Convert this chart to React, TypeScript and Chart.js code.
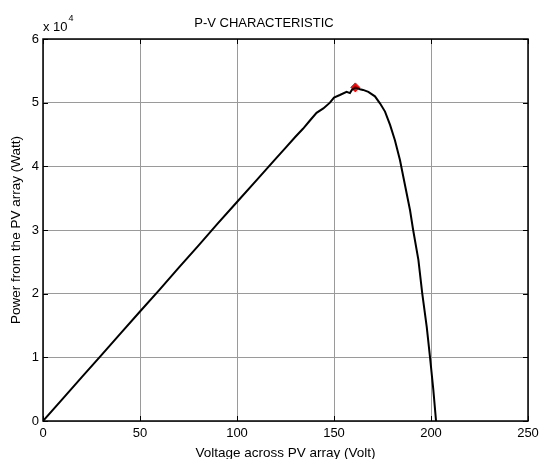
import React, { useEffect, useRef } from "react";
import { Chart, registerables } from "chart.js";

Chart.register(...registerables);

const voltage = [0, 10, 20, 30, 40, 50, 60, 70, 80, 90, 100, 110, 120, 125, 130, 134, 137.6, 141, 144.5, 147.9, 150, 153, 156.5, 158.2, 159.2, 161, 163.4, 165, 167.7, 171.1, 173.7, 176.3, 178.9, 181.4, 184, 185.7, 189.2, 190.8, 193.5, 195.5, 197.8, 199.5, 201.2, 202.6];
const powerE4 = [0, 0.344, 0.69, 1.03, 1.375, 1.72, 2.06, 2.41, 2.75, 3.1, 3.44, 3.78, 4.12, 4.29, 4.46, 4.59, 4.72, 4.84, 4.91, 5.0, 5.08, 5.12, 5.17, 5.15, 5.2, 5.24, 5.21, 5.2, 5.17, 5.1, 4.99, 4.86, 4.65, 4.41, 4.1, 3.84, 3.31, 3.0, 2.53, 2.0, 1.48, 1.0, 0.49, 0];
const mppVoltage = [161];
const mppPowerE4 = [5.24];
const xTicks = [0, 50, 100, 150, 200, 250];
const yTicks = [0, 1, 2, 3, 4, 5, 6];

const FONT = "Arial, 'Liberation Sans', Helvetica, sans-serif";

const boxPlugin = {
  id: "matlabBox",
  afterDraw(chart: any) {
    const { ctx, chartArea: a, scales } = chart;
    ctx.save();
    ctx.strokeStyle = "#000";
    ctx.lineWidth = 1;
    const tl = 5;
    ctx.beginPath();
    xTicks.forEach((v) => {
      const px = Math.round(scales.x.getPixelForValue(v)) + 0.5;
      ctx.moveTo(px, a.bottom);
      ctx.lineTo(px, a.bottom - tl);
      ctx.moveTo(px, a.top);
      ctx.lineTo(px, a.top + tl);
    });
    yTicks.forEach((v) => {
      const py = Math.round(scales.y.getPixelForValue(v * 1e4)) + 0.5;
      ctx.moveTo(a.left, py);
      ctx.lineTo(a.left + tl, py);
      ctx.moveTo(a.right, py);
      ctx.lineTo(a.right - tl, py);
    });
    ctx.stroke();
    ctx.lineWidth = 1.5;
    ctx.strokeRect(a.left, a.top, a.right - a.left, a.bottom - a.top);
    ctx.fillStyle = "#000";
    ctx.textBaseline = "middle";
    ctx.textAlign = "left";
    ctx.font = `13px ${FONT}`;
    const base = "x 10";
    ctx.fillText(base, a.left, a.top - 12);
    const w = ctx.measureText(base).width;
    ctx.font = `9px ${FONT}`;
    ctx.fillText("4", a.left + w + 1, a.top - 20);
    ctx.restore();
  },
};

export default function App() {
  const ref = useRef<HTMLCanvasElement>(null);
  useEffect(() => {
    const canvas = ref.current!;
    const chart = new Chart(canvas, {
      type: "scatter",
      data: {
        datasets: [
          {
            label: "P-V",
            data: voltage.map((v, i) => ({ x: v, y: powerE4[i] * 1e4 })),
            showLine: true,
            borderColor: "#000",
            borderWidth: 2,
            pointRadius: 0,
            tension: 0,
          },
          {
            label: "MPP",
            data: mppVoltage.map((v, i) => ({ x: v, y: mppPowerE4[i] * 1e4 })),
            showLine: false,
            pointStyle: "rectRot",
            pointRadius: 4.5,
            backgroundColor: "#ff0000",
            borderColor: "#ff0000",
            borderWidth: 1,
          },
        ],
      },
      options: {
        responsive: false,
        animation: false,
        layout: { padding: { left: 0, right: 11, top: 0, bottom: 0 } },
        plugins: {
          legend: { display: false },
          tooltip: { enabled: false },
          title: {
            display: true,
            text: "P-V CHARACTERISTIC",
            color: "#000",
            font: { family: FONT, size: 13, weight: "normal", lineHeight: 1 },
            padding: { top: 17, bottom: 9 },
          },
        },
        scales: {
          x: {
            type: "linear",
            min: 0,
            max: 250,
            afterFit: (s: any) => {
              s.height = 38;
              s.paddingLeft = 0;
              s.paddingRight = 0;
            },
            afterBuildTicks: (s: any) => {
              s.ticks = xTicks.map((v) => ({ value: v }));
            },
            ticks: {
              color: "#000",
              padding: 5,
              maxRotation: 0,
              font: { family: FONT, size: 13 },
            },
            grid: { color: "#9a9a9a", lineWidth: 1, drawTicks: false },
            border: { display: false },
            title: {
              display: true,
              text: "Voltage across PV array (Volt)",
              color: "#000",
              font: { family: FONT, size: 13.5, lineHeight: 1 },
              padding: { top: 0, bottom: -1 },
            },
          },
          y: {
            type: "linear",
            min: 0,
            max: 60000,
            afterFit: (s: any) => {
              s.width = 43;
              s.paddingTop = 0;
              s.paddingBottom = 0;
            },
            afterBuildTicks: (s: any) => {
              s.ticks = yTicks.map((v) => ({ value: v * 1e4 }));
            },
            ticks: {
              color: "#000",
              padding: 4,
              font: { family: FONT, size: 13 },
              callback: (v: any) => String(Math.round(Number(v) / 1e4)),
            },
            grid: { color: "#9a9a9a", lineWidth: 1, drawTicks: false },
            border: { display: false },
            title: {
              display: true,
              text: "Power from the PV array (Watt)",
              color: "#000",
              font: { family: FONT, size: 13.5, lineHeight: 1 },
              padding: { top: 10, bottom: 0 },
            },
          },
        },
      },
      plugins: [boxPlugin],
    });
    return () => chart.destroy();
  }, []);
  return (
    <div style={{ position: "absolute", left: 0, top: 0, width: 539, height: 459, background: "#fff" }}>
      <canvas ref={ref} width={539} height={459} style={{ display: "block" }} />
    </div>
  );
}
